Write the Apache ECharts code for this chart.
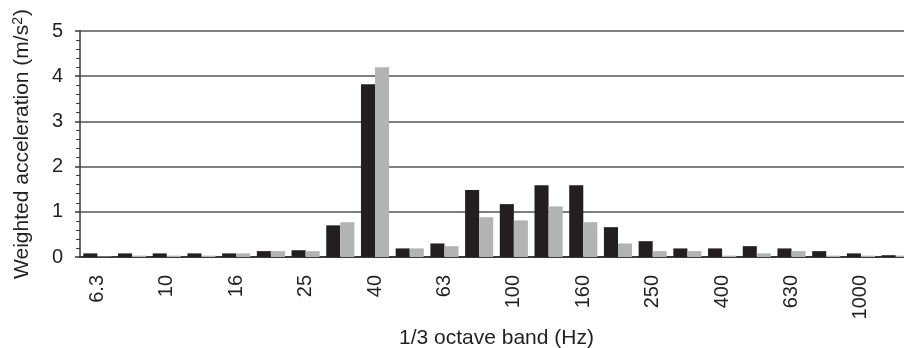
<!DOCTYPE html>
<html>
<head>
<meta charset="utf-8">
<script src="https://cdn.jsdelivr.net/npm/echarts@6/dist/echarts.min.js"></script>
<style>
html,body{margin:0;padding:0;background:#fff;}
#chart{width:904px;height:348px;}
</style>
</head>
<body>
<div id="chart"></div>
<script>
const bands = ['6.3','8','10','12.5','16','20','25','31.5','40','50','63','80','100','125','160','200','250','315','400','500','630','800','1000','1250'];
const seriesA = [0.08,0.08,0.08,0.08,0.08,0.13,0.15,0.70,3.82,0.19,0.30,1.48,1.17,1.59,1.59,0.66,0.35,0.19,0.19,0.24,0.19,0.13,0.08,0.04];
const seriesB = [0.01,0.03,0.03,0.03,0.08,0.13,0.13,0.77,4.20,0.19,0.24,0.88,0.81,1.12,0.77,0.30,0.13,0.13,0.03,0.08,0.13,0.03,0.03,0.03];
const yTicks = [0,1,2,3,4,5];

const font = '"Liberation Sans", Arial, sans-serif';
const chart = echarts.init(document.getElementById('chart'), null, {renderer:'canvas'});
chart.setOption({
  animation: false,
  backgroundColor: '#fff',
  grid: {left: 80, top: 31, right: -9, bottom: 91, containLabel: false, outerBoundsMode: 'none'},
  xAxis: {
    type: 'category',
    data: bands,
    name: '1/3 octave band (Hz)',
    nameLocation: 'middle',
    nameGap: 70,
    nameTextStyle: {fontFamily: font, fontSize: 21, color: '#231f20'},
    axisLine: {show: true, lineStyle: {color: '#3a3a3a', width: 2}},
    axisTick: {show: false},
    axisLabel: {interval: 1, rotate: 90, margin: 18, fontFamily: font, fontSize: 20, color: '#231f20'},
    splitLine: {show: false}
  },
  yAxis: {
    type: 'value',
    min: yTicks[0],
    max: yTicks[yTicks.length - 1],
    interval: 1,
    name: 'Weighted acceleration (m/s{sup|2})',
    nameLocation: 'middle',
    nameGap: 47,
    nameTextStyle: {
      fontFamily: font, fontSize: 21, color: '#231f20',
      rich: {sup: {fontFamily: font, fontSize: 14, color: '#231f20', verticalAlign: 'top', padding: [0, 1, 8, 0]}}
    },
    axisLine: {show: true, lineStyle: {color: '#3a3a3a', width: 1.5}},
    axisTick: {show: true, inside: false, length: 5, lineStyle: {color: '#3a3a3a', width: 1.5}},
    minorTick: {show: true, splitNumber: 5, length: 4, lineStyle: {color: '#3a3a3a', width: 1}},
    axisLabel: {margin: 17, fontFamily: font, fontSize: 20, color: '#231f20'},
    splitLine: {show: true, lineStyle: {color: '#555', width: 1.5}}
  },
  series: [
    {type: 'bar', data: seriesA, barGap: '0%', barCategoryGap: '19%', itemStyle: {color: '#231f20'}},
    {type: 'bar', data: seriesB, barGap: '0%', barCategoryGap: '19%', itemStyle: {color: '#b3b3b3'}}
  ]
});
</script>
</body>
</html>
